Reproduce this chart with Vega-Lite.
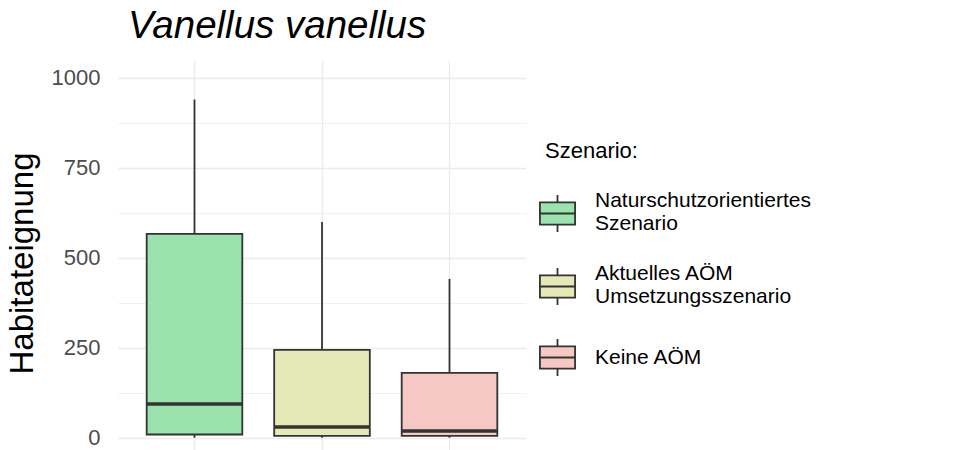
{
  "$schema": "https://vega.github.io/schema/vega-lite/v6.json",
  "autosize": {"type": "none"},
  "width": 408,
  "height": 390,
  "padding": {"left": 118, "top": 60, "right": 454, "bottom": 0},
  "background": "white",
  "config": {
    "font": "Liberation Sans",
    "view": {"stroke": null}
  },
  "title": {
    "text": "Vanellus vanellus",
    "anchor": "start",
    "fontSize": 38.5,
    "fontStyle": "italic",
    "fontWeight": "normal",
    "color": "#000000",
    "baseline": "alphabetic",
    "offset": -16,
    "dx": 122
  },
  "data": {
    "values": [
      {"Szenario": "Naturschutzorientiertes Szenario", "min": 0, "q1": 9, "median": 94, "q3": 566, "max": 939},
      {"Szenario": "Aktuelles AÖM Umsetzungsszenario", "min": 0, "q1": 5, "median": 30, "q3": 244, "max": 599},
      {"Szenario": "Keine AÖM", "min": 0, "q1": 5, "median": 19, "q3": 180, "max": 441}
    ]
  },
  "encoding": {
    "x": {
      "field": "Szenario",
      "type": "nominal",
      "scale": {
        "domain": ["Naturschutzorientiertes Szenario", "Aktuelles AÖM Umsetzungsszenario", "Keine AÖM"],
        "paddingInner": 0,
        "paddingOuter": 0.1
      },
      "axis": {
        "title": null,
        "labels": false,
        "ticks": false,
        "domain": false,
        "grid": true,
        "gridColor": "#EBEBEB",
        "gridWidth": 1.3,
        "bandPosition": 0.5
      }
    }
  },
  "layer": [
    {
      "mark": {"type": "rule", "color": "#333333", "strokeWidth": 1.8},
      "encoding": {
        "y": {
          "field": "min",
          "type": "quantitative",
          "scale": {"domain": [-34, 1049], "nice": false, "zero": false},
          "axis": {
            "title": "Habitateignung",
            "titleFontSize": 33,
            "titleFontWeight": "normal",
            "titleColor": "#000000",
            "titlePadding": 12,
            "titleY": 203,
            "values": [0, 125, 250, 375, 500, 625, 750, 875, 1000],
            "labelExpr": "datum.value % 250 === 0 ? datum.label : ''",
            "format": "d",
            "labelFontSize": 22,
            "labelColor": "#4D4D4D",
            "labelPadding": 18,
            "ticks": false,
            "domain": false,
            "grid": true,
            "gridColor": "#EBEBEB",
            "gridWidth": {"condition": {"test": "datum.value % 250 === 0", "value": 1.3}, "value": 0.7}
          }
        },
        "y2": {"field": "max"}
      }
    },
    {
      "mark": {"type": "bar", "stroke": "#333333", "strokeWidth": 1.8, "width": {"band": 0.75}},
      "encoding": {
        "y": {"field": "q1", "type": "quantitative"},
        "y2": {"field": "q3"},
        "fill": {
          "field": "Szenario",
          "type": "nominal",
          "scale": {
            "domain": ["Naturschutzorientiertes Szenario", "Aktuelles AÖM Umsetzungsszenario", "Keine AÖM"],
            "range": ["#9AE3AF", "#E5E9B5", "#F6C8C3"]
          },
          "legend": {
            "title": "Szenario:",
            "orient": "none",
            "legendX": 427,
            "legendY": 81,
            "titleFontSize": 22,
            "titleFontWeight": "normal",
            "titleColor": "#000000",
            "titlePadding": 31,
            "labelFontSize": 21,
            "labelColor": "#000000",
            "labelLimit": 400,
            "labelOffset": 18,
            "labelLineHeight": 25,
            "labelExpr": "datum.label == 'Naturschutzorientiertes Szenario' ? ['Naturschutzorientiertes', 'Szenario'] : datum.label == 'Aktuelles AÖM Umsetzungsszenario' ? ['Aktuelles AÖM', 'Umsetzungsszenario'] : datum.label",
            "symbolType": "M-0.95,-0.6H0.95V0.6H-0.95Z M-0.95,0H0.95 M0,-0.6V-1 M0,0.6V1",
            "symbolSize": 1369,
            "symbolStrokeColor": "#333333",
            "symbolStrokeWidth": 1.8,
            "symbolOpacity": 1,
            "symbolOffset": -7,
            "rowPadding": 26,
            "encode": {
              "labels": {
                "update": {
                  "dy": {"signal": "datum.value === 'Keine AÖM' ? 0 : -13"}
                }
              }
            }
          }
        }
      }
    },
    {
      "mark": {"type": "tick", "color": "#333333", "thickness": 3.5, "opacity": 1, "size": 96},
      "encoding": {
        "y": {"field": "median", "type": "quantitative"}
      }
    }
  ]
}
